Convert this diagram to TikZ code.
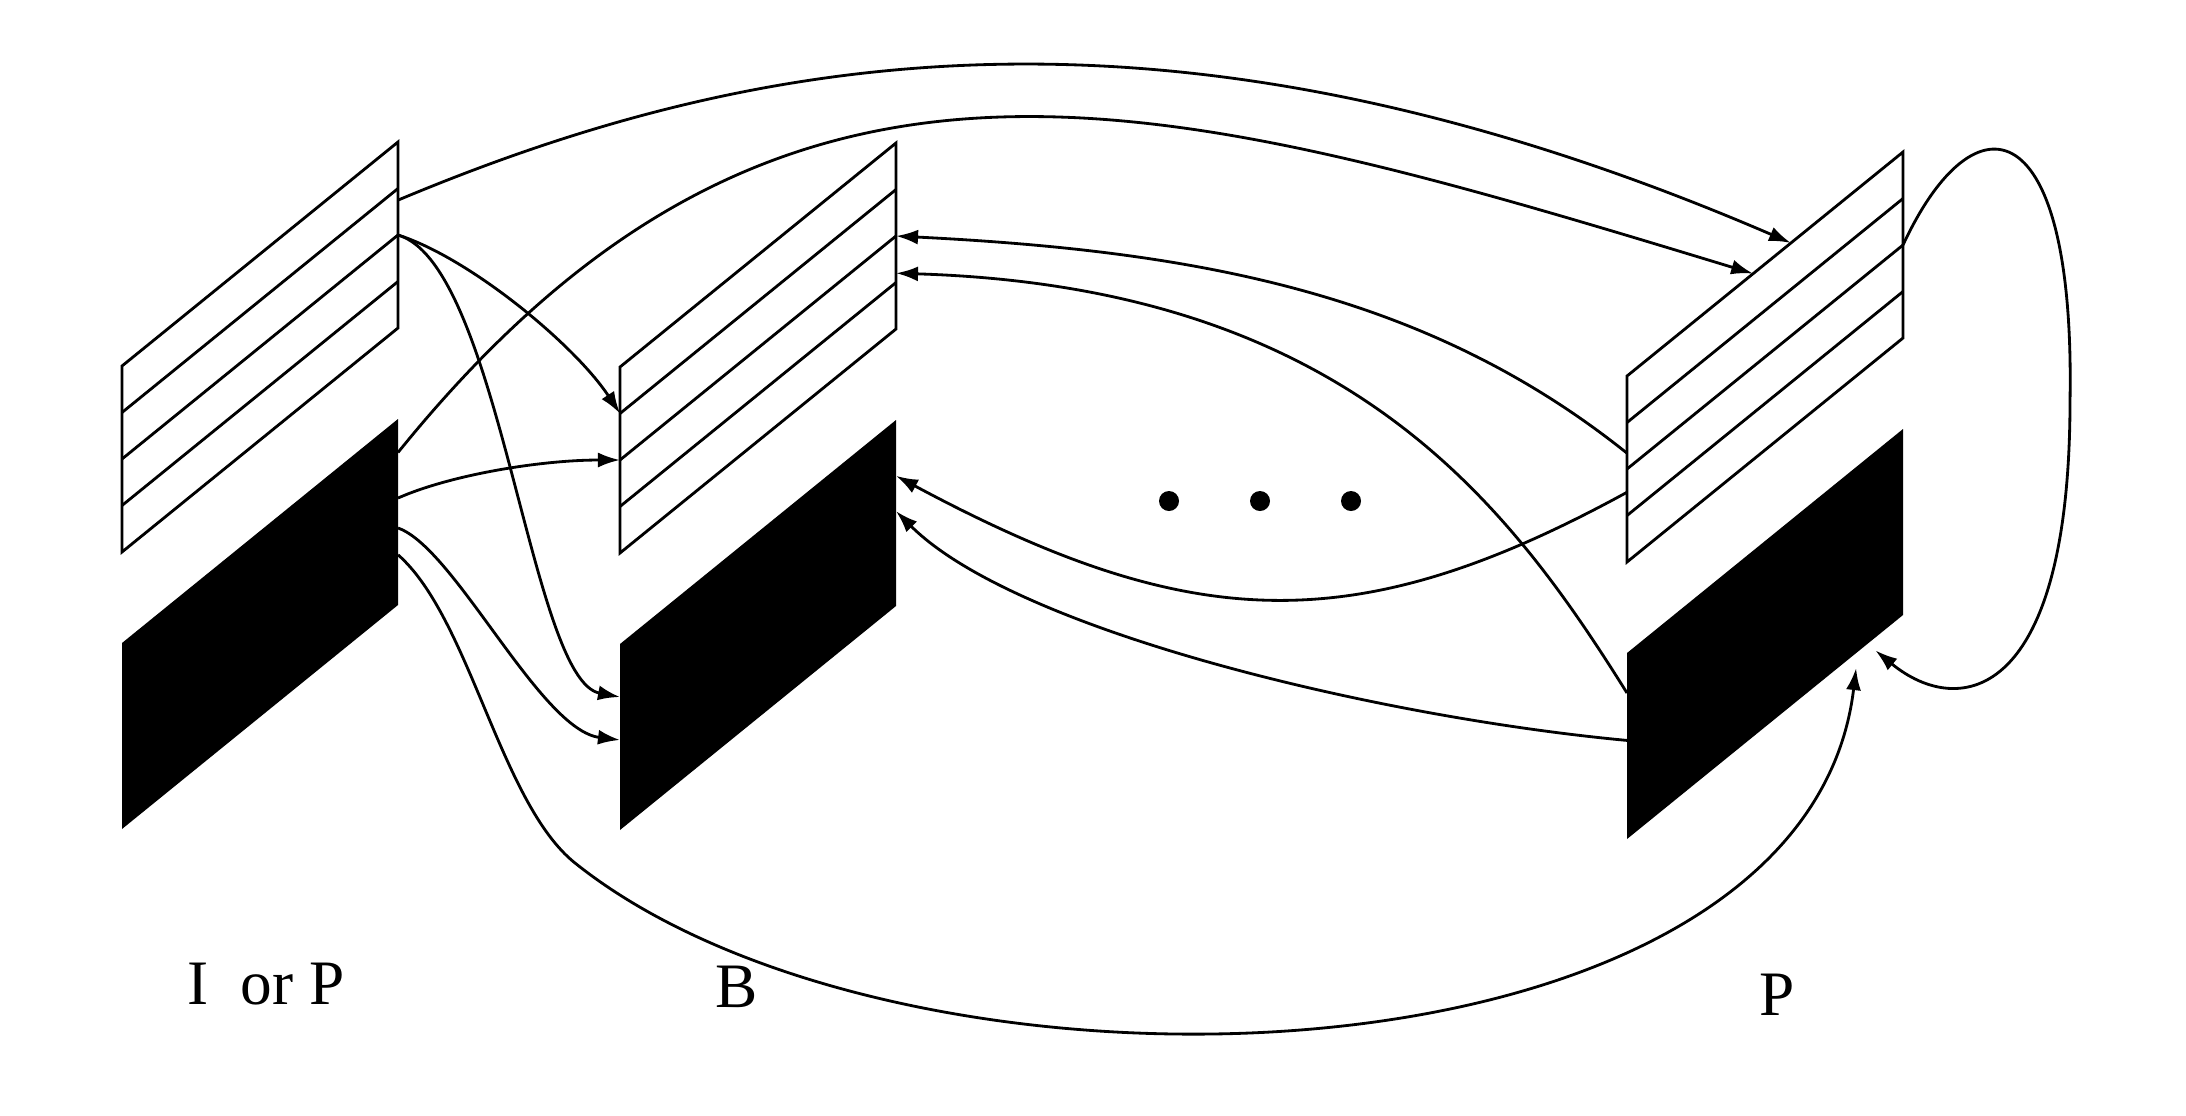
\documentclass[tikz,border=0pt]{standalone}
\usepackage{fontspec}
\setmainfont{Liberation Serif}
\usetikzlibrary{
  positioning,
  calc,
  arrows.meta}
\tikzset{
  %% stripe : outline and field lines of the upper half of a frame
  stripe/.style={
    line width=0.8pt,
    line join=miter
  },
  %% flow : a reference from one frame to another
  flow/.style={
    line width=0.8pt,
    -{Latex[length=2.2mm, width=1.5mm]}
  },
  %% ellipsisdot : the dots between B and P
  ellipsisdot/.style={
    circle,
    fill=black,
    minimum size=0.2cm,
    inner sep=0pt
  },
  %% framelabel : the frame type under a frame
  framelabel/.style={
    anchor=base,
    font=\fontsize{18}{20}\selectfont
  }
}
\tikzset{
  vframe/.pic = {
    %% striped half
    \draw [stripe] (0, 0) -- (276, -224) -- (276, -38) -- (0, 186) -- cycle;
    \foreach \i in {1,...,3}
      \draw [stripe] (0, 46.5*\i) -- (276, 46.5*\i-224);
    \foreach \i in {1,...,5}{
      \coordinate (-l\i) at (0, 46.5*\i-46.5);
      \coordinate (-r\i) at (276, 46.5*\i-270.5);
    }
    %% black half
    \fill [black] (0, 277) -- (276, 53) -- (276, 239) -- (0, 463) -- cycle;
    \coordinate (-tl) at (0, 277);
    \coordinate (-bl) at (0, 463);
    \coordinate (-tr) at (276, 53);
    \coordinate (-br) at (276, 239);
  }
}

\begin{document}
\begin{tikzpicture}
  [x=0.01cm,
  y=-0.01cm]

  \useasboundingbox (0, 0) rectangle (2186, 1115);

  %% The three frames
  \pic (ip) at (122, 366) {vframe};
  \pic (b) at (620, 367) {vframe};
  \pic (p) at (1627, 376) {vframe};

  %% Frame types
  \node (iplabel) [framelabel] at (266, 1004) {I\ \ or P};
  \node (blabel) [framelabel] at (737, 1007) {B};
  \node (plabel) [framelabel] at (1777, 1015) {P};

  %% Dots
  \foreach \x [count=\i] in {1169, 1260, 1351}
    \node (dot\i) [ellipsisdot] at (\x, 501) {};

  %% Free ends under the black half of P
  \coordinate (pin) at ($(p-bl)!0.83!(p-br) + (0, 15)$);
  \coordinate (ploop) at ($(p-bl)!0.9!(p-br) + (0, 13)$);

  %% References from the I or P frame
  \draw [flow] ($(ip-r2)!0.25!(ip-r3)$)
    .. controls (749, 53) and (1167, -26) .. ($(p-l1)!0.594!(p-r1)$);
  \draw [flow] ($(ip-tr)!0.18!(ip-br)$)
    .. controls (778, -18) and (1153, 91) .. ($(p-l1)!0.457!(p-r1)$);
  \draw [flow] (ip-r3) .. controls (470, 258) and (575, 345) .. (b-l2);
  \draw [flow] (ip-r3)
    .. controls (500, 265) and (530, 680) .. ($(b-tl)!0.285!(b-bl)$);
  \draw [flow] ($(ip-tr)!0.425!(ip-br)$)
    .. controls (450, 475) and (540, 460) .. (b-l3);
  \draw [flow] ($(ip-tr)!0.586!(ip-br)$)
    .. controls (455, 548) and (540, 730) .. ($(b-tl)!0.516!(b-bl)$);
  \draw [flow] ($(ip-tr)!0.73!(ip-br)$)
    .. controls (470, 618) and (500, 803) .. (575, 863)
    .. controls (905, 1127) and (1805, 1098) .. (pin);

  %% References from the P frame
  \draw [flow] ($(p-l2)!0.66!(p-l3)$)
    .. controls (1427, 293) and (1196, 251) .. (b-r3);
  \draw [flow] ($(p-tl)!0.215!(p-bl)$)
    .. controls (1507, 501) and (1346, 287) .. ($(b-r3)!0.8!(b-r4)$);
  \draw [flow] ($(p-l3)!0.5!(p-l4)$)
    .. controls (1355, 641) and (1191, 634) .. ($(b-tr)!0.3!(b-br)$);
  \draw [flow] ($(p-tl)!0.47!(p-bl)$)
    .. controls (1377, 717) and (1016, 631) .. ($(b-tr)!0.49!(b-br)$);

  %% P refers to itself
  \draw [flow] (p-r3)
    .. controls (1975, 90) and (2075, 110) .. (2070, 400)
    .. controls (2070, 700) and (1960, 720) .. (ploop);

\end{tikzpicture}
\end{document}
